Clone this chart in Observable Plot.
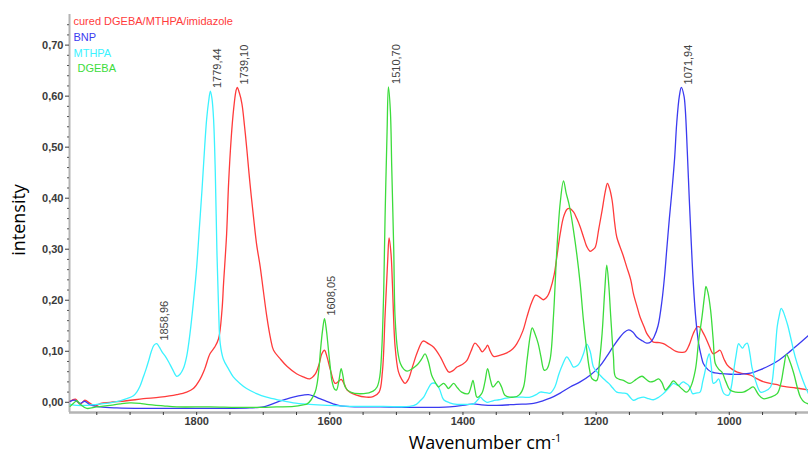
<!DOCTYPE html>
<html>
<head>
<meta charset="utf-8">
<script src="https://cdn.jsdelivr.net/npm/d3@7"></script>
<script src="https://cdn.jsdelivr.net/npm/@observablehq/plot@0.6"></script>
<style>
  html, body { margin: 0; padding: 0; background: #fff; }
  #chart svg { display: block; }
</style>
</head>
<body>
<div id="chart"></div>
<script>
// ---------- data (wavenumber cm-1, intensity) ----------
const seriesNames = ["cured DGEBA/MTHPA/imidazole", "BNP", "MTHPA", "DGEBA"];
const seriesColors = ["#ff3b3b", "#3b3bf0", "#3cf2ff", "#3cdc3c"];

const curedData = [[1990,0.002],[1982,0.006],[1975,-0.004],[1968,0.004],[1960,-0.002],[1952,-0.007],[1944,-0.002],[1930,0.0],[1905,0.003],[1880,0.007],[1855,0.01],[1830,0.015],[1815,0.02],[1805,0.027],[1795,0.045],[1788,0.065],[1780,0.095],[1773,0.108],[1767,0.125],[1762,0.18],[1759.6,0.233],[1755,0.33],[1752,0.43],[1748,0.52],[1744.6,0.573],[1741,0.61],[1739.1,0.617],[1736,0.607],[1732,0.585],[1728,0.54],[1724.5,0.494],[1720,0.43],[1714.6,0.363],[1710,0.31],[1704.5,0.265],[1700,0.22],[1694.5,0.167],[1689,0.125],[1684.5,0.102],[1675,0.086],[1664,0.07],[1650,0.056],[1640,0.05],[1630,0.046],[1622,0.055],[1616,0.075],[1612,0.095],[1608,0.102],[1604,0.088],[1599,0.063],[1592,0.037],[1586,0.042],[1583,0.045],[1578,0.035],[1574,0.024],[1560,0.014],[1545,0.01],[1535,0.011],[1526,0.02],[1521,0.06],[1517,0.17],[1513,0.28],[1511,0.322],[1508,0.29],[1506,0.233],[1502,0.11],[1497,0.06],[1492,0.045],[1487,0.037],[1482,0.045],[1476,0.069],[1468,0.1],[1460,0.12],[1452,0.115],[1444,0.108],[1434,0.089],[1426,0.068],[1421,0.059],[1415,0.062],[1409,0.069],[1400,0.075],[1394,0.082],[1388,0.1],[1382,0.116],[1376,0.108],[1371,0.099],[1366,0.106],[1363,0.112],[1359,0.1],[1354,0.09],[1345,0.092],[1334,0.097],[1325,0.105],[1319,0.115],[1310,0.14],[1304,0.167],[1297,0.195],[1291,0.21],[1285,0.206],[1279,0.201],[1273,0.208],[1269,0.22],[1263,0.25],[1259,0.285],[1254,0.33],[1249,0.363],[1244,0.378],[1240,0.38],[1234,0.373],[1229,0.36],[1224,0.344],[1218,0.32],[1214,0.305],[1209,0.296],[1204,0.3],[1201,0.305],[1196,0.34],[1191,0.376],[1186,0.415],[1183,0.429],[1180,0.42],[1176,0.396],[1172,0.35],[1169,0.324],[1160,0.29],[1154,0.265],[1148,0.24],[1144,0.213],[1138,0.185],[1134,0.167],[1128,0.148],[1124,0.135],[1118,0.124],[1114,0.118],[1105,0.117],[1099,0.115],[1090,0.108],[1080,0.1],[1072,0.098],[1066,0.099],[1060,0.113],[1054,0.135],[1048,0.148],[1044,0.147],[1040,0.138],[1036,0.128],[1030,0.11],[1024,0.095],[1018,0.099],[1014,0.102],[1008,0.085],[1003,0.073],[996,0.065],[988,0.059],[978,0.056],[968,0.053],[958,0.046],[948,0.04],[930,0.035],[918,0.031],[900,0.028],[881,0.024]];

const bnpData = [[1990,0.002],[1983,0.004],[1975,-0.002],[1968,0.002],[1960,-0.005],[1945,-0.009],[1920,-0.011],[1880,-0.012],[1820,-0.012],[1760,-0.012],[1720,-0.011],[1700,-0.009],[1690,-0.005],[1680,0.0],[1668,0.005],[1655,0.01],[1640,0.014],[1632,0.015],[1624,0.012],[1615,0.007],[1605,0.002],[1595,-0.003],[1584,-0.007],[1560,-0.009],[1524,-0.009],[1475,-0.01],[1420,-0.009],[1395,-0.005],[1384,-0.003],[1372,-0.005],[1349,-0.006],[1320,-0.004],[1294,-0.002],[1280,0.003],[1269,0.008],[1254,0.018],[1239,0.03],[1224,0.04],[1209,0.053],[1195,0.07],[1184,0.09],[1174,0.11],[1164,0.128],[1158,0.137],[1151,0.142],[1145,0.138],[1139,0.128],[1130,0.12],[1124,0.116],[1118,0.118],[1113,0.128],[1107,0.15],[1101,0.2],[1097,0.25],[1094,0.298],[1090,0.36],[1086,0.416],[1082,0.48],[1079,0.546],[1075,0.6],[1072,0.617],[1068,0.6],[1066,0.573],[1063,0.49],[1060,0.396],[1057,0.31],[1054,0.233],[1050,0.16],[1046,0.115],[1042,0.09],[1039,0.076],[1032,0.064],[1026,0.059],[1012,0.056],[998,0.055],[983,0.055],[968,0.057],[953,0.064],[938,0.073],[925,0.083],[913,0.095],[897,0.113],[881,0.131]];

const mthpaData = [[1990,-0.004],[1980,-0.006],[1965,-0.006],[1950,-0.004],[1930,-0.001],[1915,0.003],[1905,0.007],[1895,0.013],[1890,0.02],[1885,0.032],[1880,0.05],[1876,0.065],[1872,0.082],[1868,0.1],[1864,0.112],[1860,0.115],[1856,0.108],[1852,0.099],[1847,0.09],[1842,0.079],[1836,0.064],[1830,0.051],[1825,0.055],[1820,0.066],[1815,0.09],[1810,0.135],[1805,0.195],[1800,0.265],[1796,0.34],[1792,0.416],[1788,0.5],[1785,0.555],[1782,0.59],[1779.4,0.61],[1777,0.595],[1774.6,0.555],[1772,0.45],[1769.6,0.298],[1767,0.18],[1764.6,0.115],[1760,0.085],[1752,0.065],[1745,0.05],[1735,0.037],[1725,0.027],[1710,0.017],[1695,0.01],[1675,0.004],[1655,-0.001],[1630,-0.004],[1604,-0.006],[1560,-0.008],[1520,-0.008],[1480,-0.008],[1470,-0.004],[1465,0.002],[1459,0.01],[1453,0.025],[1447,0.037],[1440,0.036],[1435,0.025],[1429,0.005],[1420,-0.001],[1409,-0.004],[1395,-0.004],[1384,-0.003],[1377,0.006],[1374,0.01],[1369,0.004],[1364,0.0],[1355,0.003],[1346,0.005],[1335,0.008],[1324,0.01],[1310,0.01],[1299,0.01],[1290,0.015],[1284,0.02],[1276,0.019],[1269,0.018],[1262,0.03],[1256,0.055],[1250,0.075],[1244,0.089],[1239,0.08],[1234,0.069],[1228,0.072],[1224,0.079],[1219,0.095],[1214,0.114],[1209,0.1],[1204,0.069],[1199,0.06],[1194,0.053],[1188,0.045],[1181,0.037],[1175,0.028],[1169,0.02],[1160,0.018],[1154,0.017],[1149,0.01],[1144,0.004],[1136,0.008],[1129,0.01],[1121,0.007],[1114,0.005],[1106,0.01],[1099,0.017],[1091,0.028],[1084,0.037],[1080,0.035],[1076,0.033],[1072,0.038],[1069,0.04],[1065,0.037],[1061,0.033],[1058,0.025],[1055,0.017],[1050,0.018],[1044,0.02],[1040,0.04],[1036,0.063],[1033,0.085],[1030,0.095],[1027,0.07],[1024,0.037],[1020,0.04],[1016,0.046],[1012,0.03],[1008,0.017],[1001,0.014],[997,0.03],[994,0.056],[990,0.09],[986,0.115],[983,0.11],[980,0.106],[977,0.112],[973,0.116],[969,0.095],[966,0.069],[960,0.04],[953,0.02],[946,0.022],[938,0.03],[933,0.07],[928,0.148],[925,0.17],[922,0.184],[919,0.178],[916,0.167],[912,0.15],[908,0.128],[901,0.089],[893,0.056],[887,0.035],[881,0.017]];

const dgebaData = [[1990,-0.008],[1985,-0.002],[1980,0.003],[1975,-0.004],[1965,-0.012],[1950,-0.009],[1930,-0.006],[1915,-0.003],[1900,-0.001],[1885,-0.002],[1875,-0.004],[1850,-0.007],[1830,-0.009],[1780,-0.009],[1740,-0.01],[1704,-0.01],[1680,-0.009],[1654,-0.008],[1640,-0.005],[1634,-0.003],[1628,0.005],[1622,0.02],[1619,0.037],[1616,0.07],[1614,0.102],[1611,0.14],[1608,0.164],[1605,0.14],[1602,0.102],[1599,0.065],[1597,0.043],[1593,0.026],[1590,0.024],[1586,0.045],[1583,0.066],[1580,0.05],[1577,0.03],[1569,0.02],[1549,0.017],[1535,0.022],[1529,0.03],[1525,0.05],[1522,0.102],[1519,0.22],[1517,0.363],[1514,0.53],[1512,0.618],[1509,0.57],[1507,0.461],[1504,0.3],[1502,0.167],[1498,0.1],[1494,0.076],[1489,0.065],[1484,0.061],[1476,0.066],[1469,0.073],[1462,0.085],[1457,0.095],[1452,0.08],[1447,0.053],[1442,0.04],[1437,0.03],[1433,0.034],[1429,0.037],[1425,0.032],[1422,0.027],[1418,0.032],[1414,0.037],[1408,0.028],[1402,0.02],[1392,0.017],[1388,0.03],[1385,0.043],[1382,0.025],[1379,0.01],[1372,0.017],[1367,0.04],[1363,0.066],[1359,0.045],[1355,0.03],[1350,0.037],[1347,0.041],[1342,0.03],[1337,0.014],[1324,0.01],[1315,0.015],[1309,0.03],[1304,0.08],[1299,0.13],[1296,0.146],[1292,0.135],[1287,0.115],[1283,0.09],[1278,0.063],[1274,0.065],[1269,0.085],[1264,0.17],[1259,0.298],[1254,0.39],[1249,0.434],[1245,0.41],[1241,0.39],[1238,0.37],[1234,0.337],[1229,0.29],[1224,0.233],[1219,0.16],[1214,0.102],[1210,0.065],[1206,0.046],[1199,0.043],[1195,0.08],[1191,0.135],[1187,0.22],[1184,0.269],[1181,0.23],[1178,0.167],[1174,0.09],[1171,0.05],[1165,0.045],[1159,0.043],[1149,0.037],[1140,0.045],[1131,0.051],[1125,0.045],[1119,0.04],[1112,0.042],[1106,0.046],[1101,0.038],[1096,0.024],[1090,0.032],[1084,0.042],[1078,0.035],[1070,0.025],[1064,0.02],[1058,0.03],[1051,0.063],[1046,0.12],[1041,0.167],[1037,0.21],[1035,0.227],[1032,0.215],[1028,0.18],[1024,0.12],[1021,0.076],[1016,0.065],[1011,0.059],[1005,0.04],[999,0.024],[990,0.02],[979,0.02],[970,0.026],[964,0.03],[956,0.015],[949,0.007],[938,0.01],[928,0.017],[922,0.04],[918,0.07],[914,0.094],[909,0.08],[903,0.056],[898,0.03],[893,0.01],[887,0.0],[881,-0.003]];

// peak annotations
const peakLabels = ["1858,96", "1779,44", "1739,10", "1608,05", "1510,70", "1071,94"];
const peakWn     = [1858.96, 1779.44, 1739.10, 1608.05, 1510.70, 1071.94];
const peakVal    = [0.115, 0.61, 0.617, 0.164, 0.618, 0.617];

// axis ticks
const xTicks = [1800, 1600, 1400, 1200, 1000];
const xMinorTicks = [1950, 1900, 1850, 1750, 1700, 1650, 1550, 1500, 1450, 1350, 1300, 1250, 1150, 1100, 1050, 950, 900];
const yTicks = [0, 0.1, 0.2, 0.3, 0.4, 0.5, 0.6, 0.7];
const yMinorTicks = [0.02,0.04,0.06,0.08,0.12,0.14,0.16,0.18,0.22,0.24,0.26,0.28,0.32,0.34,0.36,0.38,0.42,0.44,0.46,0.48,0.52,0.54,0.56,0.58,0.62,0.64,0.66,0.68,0.72,0.74];

// ---------- chart ----------
const toRows = arr => arr.map(([wn, v]) => ({wn, v}));
const allSeries = [curedData, bnpData, mthpaData, dgebaData];
const peaks = peakLabels.map((label, i) => ({label, wn: peakWn[i], v: peakVal[i]}));
const fmtY = d => d.toFixed(2).replace(".", ",");
const fontFam = "'Liberation Sans', Arial, sans-serif";

const plot = Plot.plot({
  width: 808,
  height: 458,
  marginLeft: 69,
  marginRight: 0,
  marginTop: 14,
  marginBottom: 46,
  style: {fontFamily: fontFam, fontSize: "11px", background: "#fff", overflow: "visible"},
  x: {domain: [1991, 881], axis: null},
  y: {domain: [-0.02, 0.76], axis: null},
  marks: [
    // axis lines
    Plot.ruleY([-0.02], {stroke: "#b4b4b4", strokeWidth: 2.5}),
    Plot.ruleX([1991], {stroke: "#b4b4b4", strokeWidth: 2}),
    // x axis
    Plot.axisX({ticks: xTicks, tickSize: 3, tickPadding: 2, tickFormat: d => String(d), color: "#3a3a3a", fontSize: 11, fontWeight: "bold", label: null}),
    Plot.axisX({ticks: xMinorTicks, tickSize: 3, tickFormat: () => "", color: "#3a3a3a", label: null}),
    // y axis
    Plot.axisY({ticks: yTicks, tickSize: 4, tickPadding: 2, tickFormat: fmtY, color: "#3a3a3a", fontSize: 11, fontWeight: "bold", label: null}),
    Plot.axisY({ticks: yMinorTicks, tickSize: 2, tickFormat: () => "", color: "#555", label: null}),
    // spectra
    ...allSeries.map((s, i) => Plot.line(toRows(s), {x: "wn", y: "v", stroke: seriesColors[i], strokeWidth: 1.3, curve: "catmull-rom"})),
    // peak labels
    Plot.text(peaks, {x: "wn", y: "v", text: "label", rotate: -90, textAnchor: "start", dx: 7, dy: -3, fill: "#444", fontSize: 11}),
    // legend
    ...seriesNames.map((name, i) => Plot.text([name], {frameAnchor: "top-left", text: d => d, dx: (i === 3 ? 8 : 4), dy: 3 + i * 15.6, textAnchor: "start", lineAnchor: "top", fill: seriesColors[i], fontSize: 11}))
  ]
});

const svg = d3.select(plot);
// axis titles
svg.append("text")
  .attr("transform", "translate(25,220) rotate(-90)")
  .attr("text-anchor", "middle")
  .attr("font-family", "'Open Sans', sans-serif")
  .attr("font-size", 18)
  .attr("fill", "#000")
  .text("intensity");
const xt = svg.append("text")
  .attr("x", 485).attr("y", 449)
  .attr("text-anchor", "middle")
  .attr("font-family", "'Open Sans', sans-serif")
  .attr("font-size", 18)
  .attr("fill", "#000");
xt.append("tspan").text("Wavenumber cm");
xt.append("tspan").attr("dy", -7).attr("font-size", 11).text("-1");

document.getElementById("chart").appendChild(plot);
</script>
</body>
</html>
